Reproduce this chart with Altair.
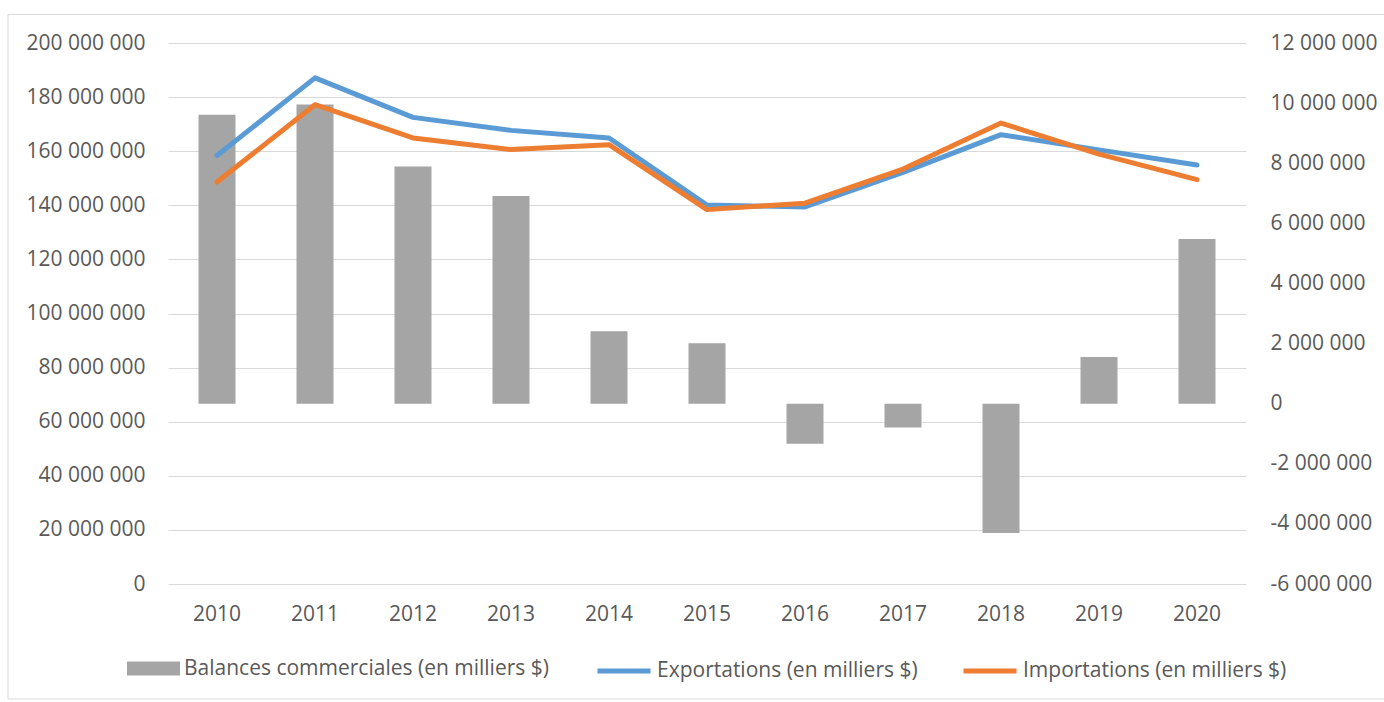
import altair as alt
import pandas as pd

years = ["2010", "2011", "2012", "2013", "2014", "2015", "2016", "2017", "2018", "2019", "2020"]
balances = [9.61e6, 9.95e6, 7.89e6, 6.91e6, 2.41e6, 2.01e6, -1.33e6, -0.79e6, -4.30e6, 1.55e6, 5.48e6]
exports = [158.4e6, 187.1e6, 172.5e6, 167.7e6, 164.9e6, 140.1e6, 139.4e6, 152.2e6, 166.1e6, 160.5e6, 154.9e6]
imports = [148.6e6, 177.2e6, 164.9e6, 160.6e6, 162.4e6, 138.4e6, 140.8e6, 153.4e6, 170.4e6, 158.9e6, 149.5e6]

bal_name = "Balances commerciales (en milliers $)"
exp_name = "Exportations (en milliers $)"
imp_name = "Importations (en milliers $)"

left_ticks = [0, 20e6, 40e6, 60e6, 80e6, 100e6, 120e6, 140e6, 160e6, 180e6, 200e6]
right_ticks = [-6e6, -4e6, -2e6, 0, 2e6, 4e6, 6e6, 8e6, 10e6, 12e6]

bar_df = pd.DataFrame({"year": years, "value": balances, "series": bal_name})
line_df = pd.concat([
    pd.DataFrame({"year": years, "value": exports, "series": exp_name}),
    pd.DataFrame({"year": years, "value": imports, "series": imp_name}),
])

FONT = "Open Sans"
GREY_TXT = "#595959"
FS = 21
fmt = "replace(replace(format(datum.value, ',d'), regexp(',', 'g'), ' '), '\u2212', '-')"

x_enc = alt.X("year:N", sort=years, title=None,
              scale=alt.Scale(type="band", paddingInner=0, paddingOuter=0),
              axis=alt.Axis(labelAngle=0, domain=False, ticks=False, labelPadding=19,
                            labelFontSize=FS, labelColor=GREY_TXT, labelFont=FONT))

bars = alt.Chart(bar_df).mark_bar(size=37, color="#A5A5A5").encode(
    x=x_enc,
    y=alt.Y("value:Q", title=None,
            scale=alt.Scale(domain=[-6e6, 12e6], nice=False, zero=False),
            axis=alt.Axis(orient="right", values=right_ticks, grid=False, domain=False,
                          ticks=False, labelPadding=24, labelExpr=fmt, labelFontSize=FS,
                          labelColor=GREY_TXT, labelFont=FONT)),
    fill=alt.Fill("series:N",
                  scale=alt.Scale(domain=[bal_name], range=["#A5A5A5"]),
                  legend=alt.Legend(title=None, orient="none", legendX=-41, legendY=599,
                                    symbolType="M-1,-0.26H1V0.26H-1Z", symbolSize=2809,
                                    symbolStrokeWidth=0, labelFontSize=FS, labelColor=GREY_TXT,
                                    labelFont=FONT, labelLimit=600, labelOffset=4, padding=0)),
)

lines = alt.Chart(line_df).mark_line(strokeWidth=5, strokeCap="round", strokeJoin="round").encode(
    x=x_enc,
    y=alt.Y("value:Q", title=None,
            scale=alt.Scale(domain=[0, 200e6], nice=False),
            axis=alt.Axis(orient="left", values=left_ticks, grid=True, gridColor="#D9D9D9",
                          gridWidth=1, domain=False, ticks=False, labelPadding=23,
                          labelExpr=fmt, labelFontSize=FS, labelColor=GREY_TXT, labelFont=FONT)),
    stroke=alt.Stroke("series:N",
                      scale=alt.Scale(domain=[exp_name, imp_name], range=["#5B9BD5", "#ED7D31"]),
                      legend=alt.Legend(title=None, orient="none", legendX=427, legendY=599,
                                        direction="horizontal", symbolType="stroke",
                                        symbolSize=2809, symbolStrokeWidth=5,
                                        labelFontSize=FS, labelColor=GREY_TXT, labelFont=FONT,
                                        labelLimit=600, labelOffset=4, columnPadding=35,
                                        padding=0)),
    detail="series:N",
)

border = alt.Chart(alt.Data(values=[{"a": 1}])).mark_rect(
    fill=None, stroke="#D9D9D9", strokeWidth=1
).encode(
    x=alt.value(-160), x2=alt.value(1240), y=alt.value(-28.5), y2=alt.value(656)
)

chart = alt.layer(bars, lines, border).resolve_scale(
    y="independent", fill="independent", stroke="independent"
).properties(
    width=1078, height=541,
    autosize=alt.AutoSizeParams(type="none"),
    padding={"left": 168, "top": 43, "right": 138, "bottom": 118},
).configure(background="white").configure_view(stroke=None)

chart.save("out.html", embed_options={"renderer": "svg", "actions": False})
